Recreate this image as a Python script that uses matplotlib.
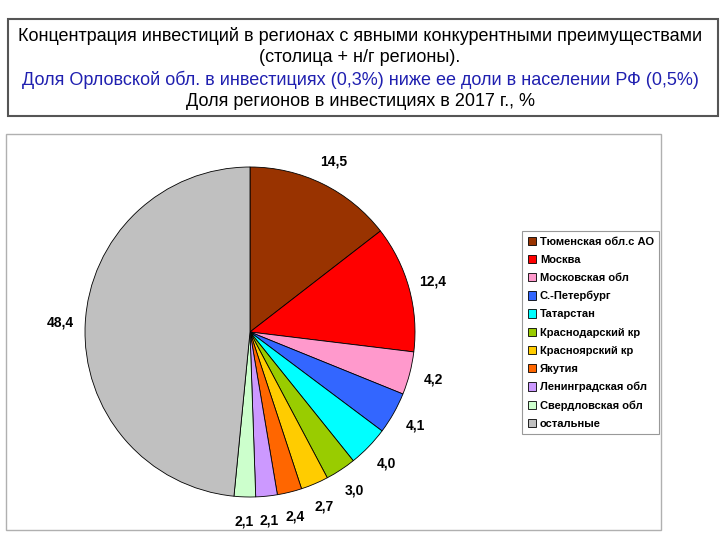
import matplotlib.pyplot as plt
from matplotlib.patches import Rectangle

plt.rcParams['font.family'] = ['Liberation Sans', 'DejaVu Sans']

# данные
regions = ["Тюменская обл.с АО", "Москва", "Московская обл", "С.-Петербург",
           "Татарстан", "Краснодарский кр", "Красноярский кр", "Якутия",
           "Ленинградская обл", "Свердловская обл", "остальные"]
shares = [14.5, 12.4, 4.2, 4.1, 4.0, 3.0, 2.7, 2.4, 2.1, 2.1, 48.4]
share_labels = ["14,5", "12,4", "4,2", "4,1", "4,0", "3,0", "2,7", "2,4", "2,1", "2,1", "48,4"]
colors = ["#993300", "#FF0000", "#FF99CC", "#3366FF", "#00FFFF", "#99CC00",
          "#FFCC00", "#FF6600", "#CC99FF", "#CCFFCC", "#C0C0C0"]

fig = plt.figure(figsize=(7.2, 5.4), dpi=100)
W, H = 720, 540

# рамка заголовка
fig.patches.append(Rectangle((8 / W, 1 - 116 / H), 710 / W, 97 / H,
                             transform=fig.transFigure, fill=False,
                             edgecolor="#555555", linewidth=1.5))
title_lines = [
    ("Концентрация инвестиций в регионах с явными конкурентными преимуществами", "black"),
    ("(столица + н/г регионы).", "black"),
    ("Доля Орловской обл. в инвестициях (0,3%) ниже ее доли в населении РФ (0,5%)", "#2020B0"),
    ("Доля регионов в инвестициях в 2017 г., %", "black"),
]
for i, (txt, c) in enumerate(title_lines):
    fig.text(0.5, 1 - (36 + 22 * i) / H, txt, ha="center", va="center",
             fontsize=13, color=c)

# рамка диаграммы
fig.patches.append(Rectangle((6 / W, 1 - 530 / H), 655 / W, 396 / H,
                             transform=fig.transFigure, fill=False,
                             edgecolor="#B0B0B0", linewidth=1.0))

# круговая диаграмма
cx, cy, r = 250, 332, 165
ax = fig.add_axes([(cx - r) / W, 1 - (cy + r) / H, 2 * r / W, 2 * r / H])
wedges, texts = ax.pie(shares, labels=share_labels, colors=colors,
                       startangle=90, counterclock=False, labeldistance=1.15,
                       wedgeprops=dict(edgecolor="black", linewidth=0.6),
                       textprops=dict(fontsize=10, fontweight="bold"))
for t in texts:
    t.set_ha("center")
    t.set_va("center")
    t.set_clip_on(False)
ax.set_xlim(-1, 1)
ax.set_ylim(-1, 1)
ax.axis("off")

leg = fig.legend(wedges, regions, loc="upper left",
                 bbox_to_anchor=(522 / W, 1 - 231 / H),
                 prop=dict(size=8, weight="bold"), frameon=True, fancybox=False,
                 edgecolor="#808080", handlelength=0.8, handleheight=0.8,
                 handletextpad=0.3, labelspacing=0.72, borderpad=0.5,
                 borderaxespad=0)
leg.get_frame().set_linewidth(0.8)

plt.savefig("out.png", dpi=100)
